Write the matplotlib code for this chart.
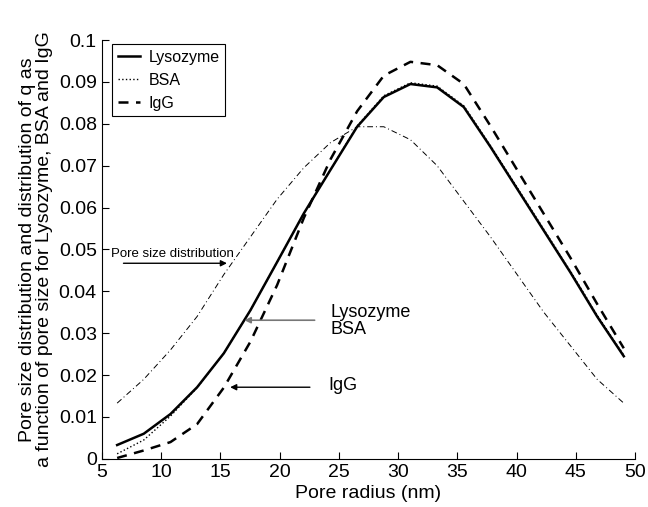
import numpy as np
import matplotlib
matplotlib.use('Agg')
import matplotlib.pyplot as plt

plt.rcParams['font.family'] = ['Liberation Sans', 'DejaVu Sans']

# pore radius nodes (nm)
radius = [6.3, 8.55, 10.8, 13.05, 15.3, 17.55, 19.8, 22.05, 24.3, 26.55,
          28.8, 31.05, 33.3, 35.55, 37.8, 40.05, 42.3, 44.55, 46.8, 49.05]

lysozyme = [0.0033, 0.006, 0.0107, 0.0171, 0.0252, 0.0355, 0.047, 0.0586, 0.069, 0.0793,
            0.0864, 0.0895, 0.0887, 0.084, 0.0745, 0.0645, 0.0545, 0.0445, 0.034, 0.0245]
bsa = [0.0012, 0.0045, 0.0102, 0.017, 0.0252, 0.0355, 0.047, 0.0586, 0.069, 0.0795,
       0.0867, 0.0898, 0.089, 0.0843, 0.0748, 0.0648, 0.0548, 0.0448, 0.0343, 0.0248]
igg = [0.0002, 0.002, 0.004, 0.0083, 0.017, 0.028, 0.0415, 0.0575, 0.0715, 0.083,
       0.0915, 0.0948, 0.094, 0.0895, 0.0795, 0.069, 0.0585, 0.048, 0.037, 0.0264]
pore_dist = [0.0133, 0.019, 0.026, 0.034, 0.044, 0.053, 0.062, 0.0695, 0.0755, 0.0793,
             0.0793, 0.0762, 0.070, 0.0615, 0.053, 0.044, 0.035, 0.027, 0.019, 0.0133]

xticks = [5, 10, 15, 20, 25, 30, 35, 40, 45, 50]
yticks = [0, 0.01, 0.02, 0.03, 0.04, 0.05, 0.06, 0.07, 0.08, 0.09, 0.1]
ytick_labels = ['0', '0.01', '0.02', '0.03', '0.04', '0.05', '0.06', '0.07', '0.08', '0.09', '0.1']

fig = plt.figure(figsize=(6.48, 5.07), dpi=100)
ax = fig.add_axes([0.157, 0.095, 0.823, 0.826])

ax.plot(radius, lysozyme, 'k-', lw=1.8, label='Lysozyme')
ax.plot(radius, bsa, 'k:', lw=1.0, label='BSA')
ax.plot(radius, igg, 'k--', lw=1.8, dashes=(4, 3), label='IgG')
ax.plot(radius, pore_dist, 'k-.', lw=0.7, dashes=(6, 3, 1, 3))

ax.set_xlim(5, 50)
ax.set_ylim(0, 0.1)
ax.set_xticks(xticks)
ax.set_yticks(yticks)
ax.set_yticklabels(ytick_labels)
ax.tick_params(direction='in', labelsize=14, length=5, width=0.8)
ax.spines['top'].set_visible(False)
ax.spines['right'].set_visible(False)

ax.set_xlabel('Pore radius (nm)', fontsize=14, labelpad=3)
ax.set_ylabel('Pore size distribution and distribution of q as\n'
              'a function of pore size for Lysozyme, BSA and IgG',
              fontsize=14, labelpad=4, linespacing=1.0)

leg = ax.legend(loc='upper left', bbox_to_anchor=(0.02, 0.99), borderaxespad=0,
                fontsize=11.5, handlelength=1.4, handletextpad=0.5, borderpad=0.35,
                labelspacing=0.5, fancybox=False, framealpha=1)
leg.get_frame().set_edgecolor('black')
leg.get_frame().set_linewidth(0.8)

# annotations
ax.annotate('', xy=(15.8, 0.0467), xytext=(6.6, 0.0467),
            arrowprops=dict(arrowstyle='-|>', color='black', lw=1.0, mutation_scale=9))
ax.text(11.0, 0.0489, 'Pore size distribution', fontsize=9.5, ha='center', va='center')

ax.annotate('', xy=(16.8, 0.0331), xytext=(23.2, 0.0331),
            arrowprops=dict(arrowstyle='-|>', color='#777777', lw=1.2, mutation_scale=9))
ax.text(24.3, 0.0329, 'Lysozyme\nBSA', fontsize=13, ha='left', va='center', linespacing=1.0)

ax.annotate('', xy=(15.6, 0.0171), xytext=(22.8, 0.0171),
            arrowprops=dict(arrowstyle='-|>', color='black', lw=1.0, mutation_scale=9))
ax.text(24.1, 0.0174, 'IgG', fontsize=13, ha='left', va='center')

fig.savefig('out.png', dpi=100)
